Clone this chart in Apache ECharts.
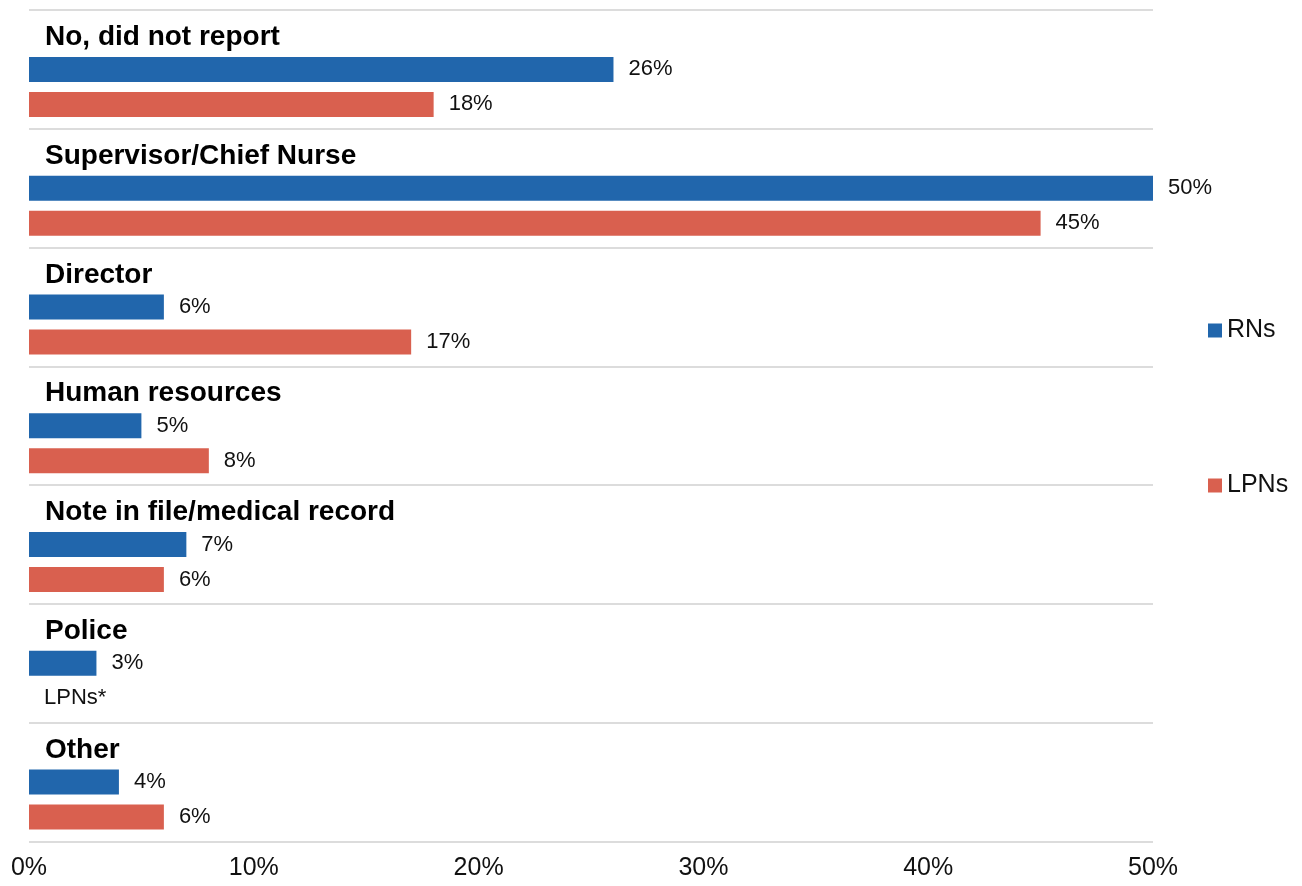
<!DOCTYPE html>
<html>
<head>
<meta charset="utf-8">
<title>Who nurses reported to</title>
<script src="https://cdn.jsdelivr.net/npm/echarts@6/dist/echarts.min.js"></script>
<style>
  html, body { margin: 0; padding: 0; background: #fff; }
  #chart { width: 1302px; height: 886px; }
</style>
</head>
<body>
<div id="chart"></div>
<script>
// Where the incident was reported, share of respondents
const categories = [
  'No, did not report',
  'Supervisor/Chief Nurse',
  'Director',
  'Human resources',
  'Note in file/medical record',
  'Police',
  'Other'
];
const rnValues  = [26, 50, 6, 5, 7, 3, 4];
const lpnValues = [18, 45, 17, 8, 6, null, 6];   // null: LPN figure not shown
const missingNote = 'LPNs*';
const tickLabels = ['0%', '10%', '20%', '30%', '40%', '50%'];

const FONT = 'Arial, "Liberation Sans", Helvetica, sans-serif';
const BLUE = '#2166AC';
const RED = '#D9604F';

const valueLabel = {
  show: true,
  position: 'right',
  distance: 15,
  color: '#111',
  fontFamily: FONT,
  fontSize: 22,
  formatter: p => p.value + '%'
};

const chart = echarts.init(document.getElementById('chart'), null, { renderer: 'canvas' });

chart.setOption({
  animation: false,
  backgroundColor: '#fff',
  grid: { left: 29, right: 149, top: 10, bottom: 44.5, containLabel: false },
  legend: {
    data: ['RNs', 'LPNs'],
    orient: 'vertical',
    left: 1208,
    top: 318,
    padding: 0,
    itemWidth: 14,
    itemHeight: 14,
    itemGap: 130,
    icon: 'rect',
    textStyle: { fontFamily: FONT, fontSize: 25, color: '#111', lineHeight: 25 }
  },
  xAxis: {
    type: 'value',
    min: 0,
    max: 50,
    interval: 10,
    axisLine: { show: false },
    axisTick: { show: false },
    splitLine: { show: false },
    axisLabel: {
      margin: 14,
      fontFamily: FONT,
      fontSize: 25,
      color: '#111',
      formatter: v => tickLabels[Math.round(v / 10)]
    }
  },
  yAxis: {
    type: 'category',
    data: categories,
    inverse: true,
    axisLine: { show: false },
    axisTick: { show: false },
    axisLabel: { show: false },
    splitLine: { show: true, lineStyle: { color: '#DCDCDC', width: 2 } }
  },
  series: [
    {
      // category headings, sitting above each pair of bars
      name: 'heading',
      type: 'bar',
      barWidth: 25,
      barGap: '40%',
      silent: true,
      itemStyle: { color: 'rgba(0,0,0,0)' },
      data: categories.map(() => 0),
      label: {
        show: true,
        position: 'right',
        distance: 16,
        offset: [0, 3],
        color: '#000',
        fontFamily: FONT,
        fontSize: 28,
        fontWeight: 'bold',
        formatter: p => categories[p.dataIndex]
      }
    },
    {
      name: 'RNs',
      type: 'bar',
      barWidth: 25,
      barGap: '40%',
      itemStyle: { color: BLUE },
      label: valueLabel,
      data: rnValues
    },
    {
      name: 'LPNs',
      type: 'bar',
      barWidth: 25,
      barGap: '40%',
      itemStyle: { color: RED },
      label: valueLabel,
      data: lpnValues.map(v => v === null
        ? { value: 0, label: { formatter: missingNote } }
        : v)
    }
  ]
});
</script>
</body>
</html>
